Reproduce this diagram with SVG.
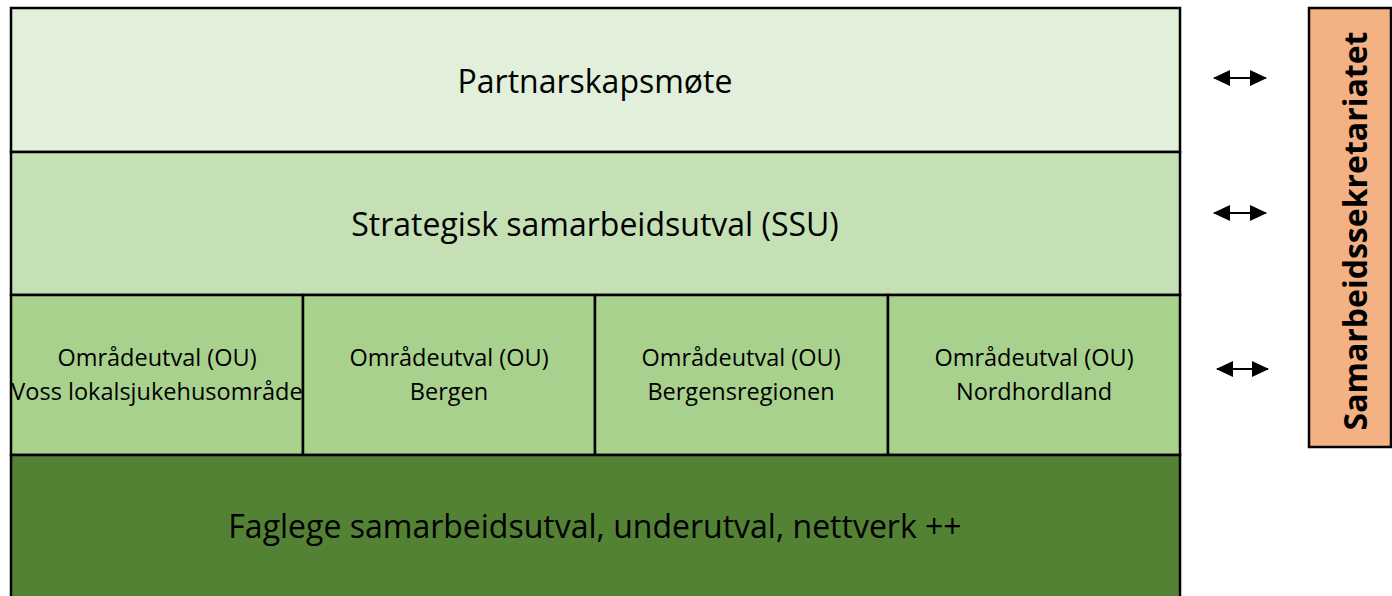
<svg xmlns="http://www.w3.org/2000/svg" width="1392" height="596" viewBox="0 0 1392 596">
<style>
.box{stroke:#000;stroke-width:2.5}
.t{font-family:"Open Sans","Liberation Sans",sans-serif;fill:#000;text-anchor:middle}
.big{font-size:32px}
.ou{font-size:23.5px}
.side{font-family:"Open Sans","Liberation Sans",sans-serif;font-weight:bold;font-size:32px;fill:#000;text-anchor:middle}
.arr{stroke:#000;stroke-width:2;fill:none;marker-start:url(#ah);marker-end:url(#ah)}
</style>
<defs>
<marker id="ah" viewBox="0 0 17 16" refX="16" refY="8" markerWidth="17" markerHeight="16" orient="auto-start-reverse" markerUnits="userSpaceOnUse">
<path d="M0,0 L17,8 L0,16 z" fill="#000"/>
</marker>
</defs>
<rect width="1392" height="596" fill="#fff"/>
<g id="partnarskapsmote">
<rect class="box" x="11" y="8" width="1169" height="144" fill="#E2EFDA"/>
<text class="t big" x="595" y="93">Partnarskapsmøte</text>
</g>
<g id="ssu">
<rect class="box" x="11" y="152" width="1169" height="143" fill="#C5E0B4"/>
<text class="t big" x="595" y="236">Strategisk samarbeidsutval (SSU)</text>
</g>
<g id="ou-voss">
<rect class="box" x="11" y="295" width="292" height="160" fill="#A9D18E"/>
<text class="t ou" x="157" y="366">Områdeutval (OU)</text>
<text class="t ou" x="157" y="400">Voss lokalsjukehusområde</text>
</g>
<g id="ou-bergen">
<rect class="box" x="303" y="295" width="292" height="160" fill="#A9D18E"/>
<text class="t ou" x="449" y="366">Områdeutval (OU)</text>
<text class="t ou" x="449" y="400">Bergen</text>
</g>
<g id="ou-bergensregionen">
<rect class="box" x="595" y="295" width="293" height="160" fill="#A9D18E"/>
<text class="t ou" x="741" y="366">Områdeutval (OU)</text>
<text class="t ou" x="741" y="400">Bergensregionen</text>
</g>
<g id="ou-nordhordland">
<rect class="box" x="888" y="295" width="292" height="160" fill="#A9D18E"/>
<text class="t ou" x="1034" y="366">Områdeutval (OU)</text>
<text class="t ou" x="1034" y="400">Nordhordland</text>
</g>
<g id="faglege">
<rect class="box" x="11" y="455" width="1169" height="150" fill="#548235"/>
<text class="t big" x="595" y="538">Faglege samarbeidsutval, underutval, nettverk ++</text>
</g>
<g id="sekretariat">
<rect class="box" x="1309" y="8" width="82" height="439" fill="#F4B183"/>
<text class="side" transform="translate(1367,231) rotate(-90)">Samarbeidssekretariatet</text>
</g>
<g id="connectors">
<line class="arr" x1="1214" y1="78" x2="1266" y2="78"/>
<line class="arr" x1="1214" y1="213" x2="1266" y2="213"/>
<line class="arr" x1="1217" y1="369" x2="1268" y2="369"/>
</g>
</svg>
